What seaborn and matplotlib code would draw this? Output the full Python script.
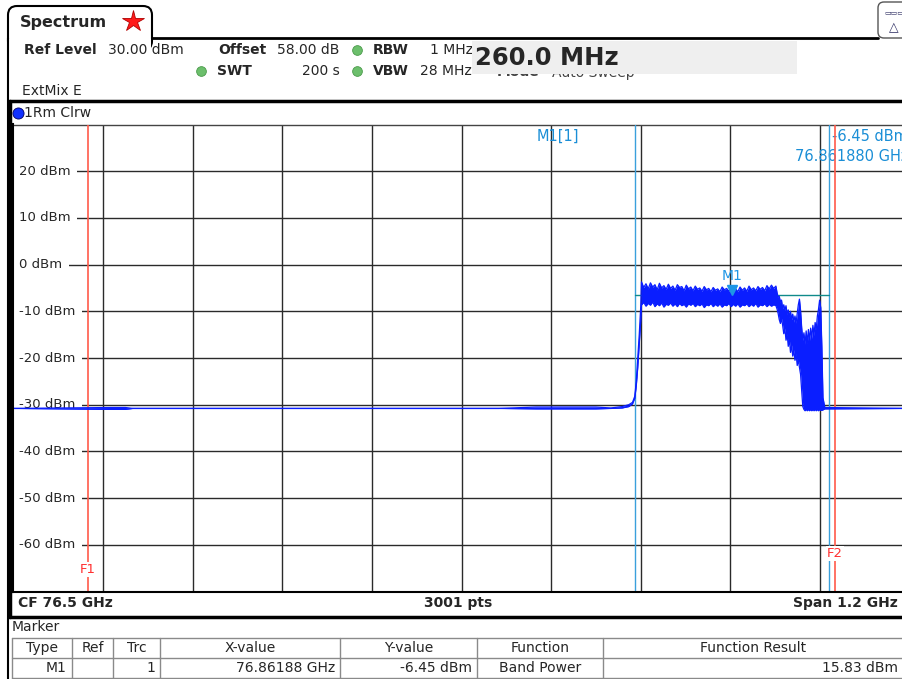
import numpy as np
import pandas as pd
import matplotlib
matplotlib.use("Agg")
import matplotlib.pyplot as plt
import seaborn as sns
from matplotlib.patches import Rectangle, FancyBboxPatch

# analyzer settings
cf_ghz = 76.5
span_ghz = 1.2
f_start = cf_ghz - span_ghz / 2
f_stop = cf_ghz + span_ghz / 2
ref_level = 30
n_div_y = 10

y_ticks = [20, 10, 0, -10, -20, -30, -40, -50, -60]
y_tick_labels = ["20 dBm", "10 dBm", "0 dBm", "-10 dBm", "-20 dBm",
                 "-30 dBm", "-40 dBm", "-50 dBm", "-60 dBm"]

# trace envelope: noise floor + rising edge
floor_freq = [75.900, 76.030, 76.050, 76.060, 76.550, 76.600, 76.680, 76.700,
              76.715, 76.724, 76.729, 76.732, 76.734, 76.736, 76.738, 76.740]
floor_hi = [-30.8, -30.6, -30.6, -30.8, -30.8, -30.5, -30.5, -30.7,
            -30.4, -30.0, -29.5, -28.2, -25.0, -20.0, -15.0, -9.0]
floor_lo = [-30.8, -31.0, -31.0, -30.8, -30.8, -30.9, -30.9, -30.8,
            -30.7, -30.4, -29.8, -28.6, -26.0, -22.0, -17.0, -12.0]

# flat part of the band (upper / lower edge of the noisy trace)
band_freq = [76.741, 76.744, 76.747, 76.750, 76.753, 76.756, 76.759, 76.762, 76.765, 76.768,
             76.771, 76.774, 76.777, 76.780, 76.783, 76.786, 76.789, 76.792, 76.795, 76.798,
             76.801, 76.804, 76.807, 76.810, 76.813, 76.816, 76.819, 76.822, 76.825, 76.828,
             76.831, 76.834, 76.837, 76.840, 76.843, 76.846, 76.849, 76.852, 76.855, 76.858,
             76.861, 76.864, 76.867, 76.870, 76.873, 76.876, 76.879, 76.882, 76.885, 76.888,
             76.891, 76.894, 76.897, 76.900, 76.903, 76.906, 76.909, 76.912, 76.915, 76.918,
             76.921]
band_hi = [-3.7, -4.9, -4.1, -5.2, -3.9, -4.8, -4.3, -5.4, -4.0, -5.0,
           -4.5, -5.3, -4.2, -5.1, -4.6, -5.5, -4.3, -4.9, -4.7, -5.6,
           -4.4, -5.2, -4.8, -5.6, -4.6, -5.3, -5.0, -5.7, -4.7, -5.4,
           -5.1, -5.8, -4.9, -5.5, -5.2, -5.8, -4.8, -5.4, -5.1, -5.7,
           -4.9, -5.6, -5.2, -5.8, -4.8, -5.5, -5.0, -5.7, -4.6, -5.4,
           -5.0, -5.6, -4.7, -5.3, -4.9, -5.6, -4.5, -5.2, -4.4, -5.1,
           -4.6]
band_lo = [-8.6, -8.1, -8.9, -8.3, -8.7, -8.0, -9.0, -8.4, -8.8, -8.2,
           -9.1, -8.5, -8.7, -8.2, -8.9, -8.4, -9.0, -8.3, -8.8, -8.5,
           -9.1, -8.4, -8.7, -8.3, -9.0, -8.5, -8.8, -8.4, -9.2, -8.6,
           -8.8, -8.3, -9.0, -8.5, -8.9, -8.4, -9.1, -8.6, -8.8, -8.3,
           -9.0, -8.5, -8.9, -8.4, -9.1, -8.6, -8.8, -8.4, -9.0, -8.5,
           -8.9, -8.3, -9.1, -8.6, -8.8, -8.4, -9.0, -8.5, -8.9, -8.6,
           -8.8]

# roll-off at the upper band edge, then back to the floor
edge_freq = [76.9225, 76.9240, 76.9255, 76.9270, 76.9285, 76.9300, 76.9315, 76.9330,
             76.9345, 76.9360, 76.9375, 76.9390, 76.9405, 76.9420, 76.9435, 76.9450,
             76.9465, 76.9480, 76.9495, 76.9510, 76.9525, 76.9540, 76.9555, 76.9570,
             76.9585, 76.9600, 76.9615, 76.9630, 76.9645, 76.9660, 76.9675, 76.9690,
             76.9705, 76.9720, 76.9735, 76.9750, 76.9765, 76.9780, 76.9795, 76.9810,
             76.9825, 76.9840, 76.9865, 77.1000]
edge_hi = [-6.0, -7.0, -6.8, -8.0, -7.6, -9.4, -8.6, -9.8,
           -8.8, -10.6, -9.7, -11.2, -10.0, -11.8, -10.6, -12.3,
           -11.0, -12.5, -10.5, -8.6, -7.4, -9.8, -13.5, -16.2,
           -14.6, -17.0, -14.2, -16.8, -13.9, -16.2, -13.6, -15.8,
           -13.0, -15.2, -12.4, -13.8, -11.0, -9.6, -7.6, -9.2,
           -17.5, -28.5, -30.6, -30.8]
edge_lo = [-9.5, -10.5, -11.8, -12.6, -11.5, -13.0, -14.8, -13.6,
           -16.2, -14.8, -17.5, -16.0, -18.8, -17.2, -19.6, -18.2,
           -20.5, -19.0, -21.6, -20.4, -22.0, -23.5, -27.0, -30.4,
           -31.0, -31.3, -31.0, -31.3, -31.0, -31.3, -31.0, -31.3,
           -31.0, -31.3, -31.0, -31.3, -31.0, -31.3, -31.0, -31.2,
           -31.2, -31.1, -30.9, -30.8]

# markers / band power
m1_freq = 76.86188
m1_level = -6.45
bp_span = 0.26
f1_freq = 76.0
f2_freq = 77.0

table_cols = ["Type", "Ref", "Trc", "X-value", "Y-value", "Function", "Function Result"]
table_row = ["M1", "", "1", "76.86188 GHz", "-6.45 dBm", "Band Power", "15.83 dBm"]

df = pd.DataFrame({"freq": floor_freq + band_freq + edge_freq,
                   "hi": floor_hi + band_hi + edge_hi,
                   "lo": floor_lo + band_lo + edge_lo})

sns.set_style("white")
plt.rcParams["font.family"] = ["DejaVu Sans"]

W, H = 903, 679
fig = plt.figure(figsize=(W / 100, H / 100), dpi=100)

# ---- instrument frame drawn in pixel coords
ui = fig.add_axes([0, 0, 1, 1])
ui.set_xlim(0, W)
ui.set_ylim(H, 0)
ui.axis("off")

tab = FancyBboxPatch((8, 6), 144, 44, boxstyle="round,pad=0,rounding_size=9",
                     fc="white", ec="black", lw=1.5)
ui.add_patch(tab)
ui.add_patch(Rectangle((9, 38.5), 142, 14, fc="white", ec="none", zorder=3))
ui.plot([152, 878], [38, 38], color="black", lw=2, zorder=4)
ui.plot([8, 8], [38, H], color="black", lw=1.5, zorder=4)
icon = FancyBboxPatch((878, 2), 40, 36, boxstyle="round,pad=0,rounding_size=6",
                      fc="white", ec="#555555", lw=1)
ui.add_patch(icon)
ui.text(884, 12, "▭▭▭", fontsize=5, va="center", color="#333366")
ui.text(889, 28, "△", fontsize=9, va="center", color="#333366")

ui.text(20, 22, "Spectrum", fontsize=11.5, fontweight="bold", va="center")
ui.plot([133], [21], marker="*", markersize=16, color="#ff1a1a",
        markeredgecolor="#b00000", markeredgewidth=0.6)

ui.text(24, 50, "Ref Level", fontsize=10, fontweight="bold", va="center")
ui.text(108, 50, "30.00 dBm", fontsize=10, va="center")
ui.text(218, 50, "Offset", fontsize=10, fontweight="bold", va="center")
ui.text(277, 50, "58.00 dB", fontsize=10, va="center")
ui.text(373, 50, "RBW", fontsize=10, fontweight="bold", va="center")
ui.text(430, 50, "1 MHz", fontsize=10, va="center")
ui.text(217, 71, "SWT", fontsize=10, fontweight="bold", va="center")
ui.text(302, 71, "200 s", fontsize=10, va="center")
ui.text(373, 71, "VBW", fontsize=10, fontweight="bold", va="center")
ui.text(420, 71, "28 MHz", fontsize=10, va="center")
for gx, gy in [(357, 50), (201, 71), (357, 71)]:
    ui.plot([gx], [gy], marker="o", markersize=7, color="#6cbf6c",
            markeredgecolor="#4a9a4a", markeredgewidth=0.6)
# mode line sits half hidden behind the big readout box
ui.text(497, 72.5, "Mode", fontsize=10, fontweight="bold", va="center", color="#444444")
ui.text(552, 72.5, "Auto Sweep", fontsize=10, va="center", color="#444444")
ui.add_patch(Rectangle((472, 41), 325, 33, fc="#efefef", ec="none", zorder=5))
ui.text(475, 58, "260.0 MHz", fontsize=17.5, fontweight="bold", va="center", zorder=6)

ui.text(22, 91, "ExtMix E", fontsize=10, va="center")
ui.plot([9, W], [101, 101], color="black", lw=2.5)
ui.plot([10.5, 10.5], [101, 617], color="black", lw=2.5)
ui.plot([18], [113], marker="o", markersize=8, color="#1030ff",
        markeredgecolor="#000060", markeredgewidth=0.6)
ui.text(24, 113, "1Rm Clrw", fontsize=10, va="center")

# bottom bar
ui.text(18, 603, "CF 76.5 GHz", fontsize=10, fontweight="bold", va="center")
ui.text(458, 603, "3001 pts", fontsize=10, fontweight="bold", va="center", ha="center")
ui.text(898, 603, "Span 1.2 GHz", fontsize=10, fontweight="bold", va="center", ha="right")
ui.plot([9, W], [616.5, 616.5], color="black", lw=2.5)

# marker table
ui.text(12, 627, "Marker", fontsize=10, va="center")
col_edges = [12, 72, 113, 160, 340, 477, 603, 910]
for yl in [637.5, 657.5, 677.5]:
    ui.plot([12, W], [yl, yl], color="#8a8a8a", lw=1)
for xe in col_edges[:-1]:
    ui.plot([xe, xe], [637.5, 677.5], color="#8a8a8a", lw=1)
for i, name in enumerate(table_cols):
    xc = (col_edges[i] + min(col_edges[i + 1], W)) / 2
    ui.text(xc, 648, name, fontsize=10, va="center", ha="center")
for i, val in enumerate(table_row):
    if val == "":
        continue
    if table_cols[i] == "Function":
        xc = (col_edges[i] + col_edges[i + 1]) / 2
        ui.text(xc, 667.5, val, fontsize=10, va="center", ha="center")
    else:
        xr = min(col_edges[i + 1], W) - 5
        ui.text(xr, 667.5, val, fontsize=10, va="center", ha="right")

# ---- trace diagram
x0_px, x1_px = 13.4, 13.4 + 896.2
top_px, bot_px = 124.5, 591.5
ax = fig.add_axes([x0_px / W, 1 - bot_px / H, (x1_px - x0_px) / W, (bot_px - top_px) / H])
ax.set_facecolor("white")
ax.set_xlim(f_start, f_stop)
ax.set_ylim(ref_level - n_div_y * 10, ref_level)

ax.set_xticks([f_start + k * span_ghz / 10 for k in range(1, 10)])
ax.set_yticks(y_ticks)
ax.grid(True, color="#2a2a2a", lw=1)
ax.tick_params(length=0, labelbottom=False, labelleft=False)
for s in ["left", "bottom"]:
    ax.spines[s].set_color("black")
    ax.spines[s].set_linewidth(1.5)
    ax.spines[s].set_zorder(10)
ax.spines["top"].set_color("#444444")
ax.spines["top"].set_linewidth(1)
ax.spines["right"].set_visible(False)

lab_x = f_start + 6 / 896.2 * span_ghz
for yv, lab in zip(y_ticks, y_tick_labels):
    ax.text(lab_x, yv, lab, fontsize=9.5, va="center", ha="left", zorder=3,
            bbox=dict(fc="white", ec="none", pad=4.5))

# band power edges, display lines
ax.axvline(m1_freq - bp_span / 2, color="#3aa0dc", lw=1, zorder=4)
ax.axvline(m1_freq + bp_span / 2, color="#3aa0dc", lw=1, zorder=4)
ax.axvline(f1_freq, color="#ff5a4a", lw=1.2, zorder=4)
ax.axvline(f2_freq, color="#ff5a4a", lw=1.2, zorder=4)
ax.text(f1_freq, -65.2, "F1", color="#ff3030", fontsize=9.5, ha="center", va="center",
        zorder=5, bbox=dict(fc="white", ec="none", pad=0.8))
ax.text(f2_freq, -61.8, "F2", color="#ff3030", fontsize=9.5, ha="center", va="center",
        zorder=5, bbox=dict(fc="white", ec="none", pad=0.8))
ax.plot([m1_freq - bp_span / 2, m1_freq + bp_span / 2], [m1_level, m1_level],
        color="#108a8a", lw=1, zorder=4)

trace_blue = "#0a1eff"
ax.fill_between(df["freq"], df["lo"], df["hi"], color=trace_blue, lw=0, zorder=6)
sns.lineplot(data=df, x="freq", y="hi", ax=ax, color=trace_blue, lw=0.9, zorder=6)
sns.lineplot(data=df, x="freq", y="lo", ax=ax, color=trace_blue, lw=0.9, zorder=6)
ax.set_xlabel("")
ax.set_ylabel("")

# marker M1
ax.plot([m1_freq], [m1_level + 1.1], marker="v", markersize=7, color="#1e96e6", zorder=7)
ax.text(m1_freq, -2.4, "M1", color="#1e96e6", fontsize=10, ha="center", va="center", zorder=7)
ax.text(76.629, 27.5, "M1[1]", color="#1a8ed6", fontsize=10.5, ha="center", va="center")
ax.text(77.098, 27.5, "-6.45 dBm", color="#1a8ed6", fontsize=10.5, ha="right", va="center")
ax.text(77.098, 23.25, "76.861880 GHz", color="#1a8ed6", fontsize=10.5, ha="right", va="center")

fig.savefig("out.png", dpi=100)
